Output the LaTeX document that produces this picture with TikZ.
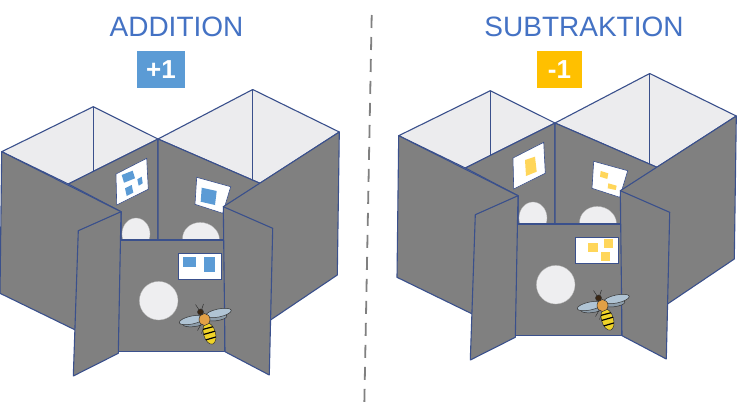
\documentclass[tikz,border=0pt]{standalone}
\usepackage{fontspec}
\setmainfont{Liberation Sans}
\usetikzlibrary{positioning}
\definecolor{wallgray}{RGB}{128,128,128}
\definecolor{topgray}{RGB}{236,236,238}
\definecolor{edgeblue}{RGB}{58,80,140}
\definecolor{titleblue}{RGB}{68,114,196}
\definecolor{sqblue}{RGB}{91,155,213}
\definecolor{sqyellow}{RGB}{255,214,90}
\definecolor{goldbox}{RGB}{255,192,0}
\definecolor{holegray}{RGB}{238,238,240}
\definecolor{winggray}{RGB}{176,196,212}
\definecolor{beeorange}{RGB}{226,160,70}
\definecolor{beeyellow}{RGB}{240,212,40}

\tikzset{
  wall/.style={fill=wallgray, draw=edgeblue, line width=1.1pt, line join=round},
  topface/.style={fill=topgray, draw=edgeblue, line width=1.1pt, line join=round},
  edgeline/.style={draw=edgeblue, line width=1.1pt},
  card/.style={fill=white, draw=edgeblue, line width=0.6pt},
  hole/.style={fill=holegray, draw=gray!60, line width=0.3pt},
  title/.style={text=titleblue, font=\fontsize{28}{28}\selectfont, inner sep=0pt},
  opbox/.style={text=white, font=\bfseries\fontsize{26}{26}\selectfont, minimum height=37pt, inner sep=0pt},
  beeline/.style={draw=black!80, line width=0.5pt}
}

% one maze: two open boxes behind an entrance with two flaps
\newcommand{\drawmaze}{%
  % open tops
  \filldraw[topface] (1.7,151.7) -- (93.3,106.7) -- (158,139) -- (68.3,184) -- cycle;
  \filldraw[topface] (158,139) -- (252.7,89.5) -- (339.3,132) -- (260,183.3) -- cycle;
  \draw[edgeline] (93.3,106.7) -- (93.3,171.5);
  \draw[edgeline] (252.7,89.5) -- (252.7,180.1);
  % inner walls
  \filldraw[wall] (68.3,184) -- (158,139) -- (158,242) -- (121,242) -- (121,211.7) -- cycle;
  \filldraw[wall] (158,139) -- (260,183.3) -- (260,242) -- (158,242) -- cycle;
  \filldraw[hole] (136,234) ellipse [x radius=14, y radius=16];
  \filldraw[hole, rotate around={-10:(201,239)}] (201,239) ellipse [x radius=18.5, y radius=16.5];
  \filldraw[card] (116,174) -- (146.7,158.3) -- (148.3,189.3) -- (116.7,205) -- cycle;
  \filldraw[card] (196.7,177.3) -- (230.7,186.7) -- (222.7,213.3) -- (195,204.3) -- cycle;
  % outer walls
  \filldraw[wall] (1.7,151.7) -- (121,211.7) -- (119.5,300) -- (100,342) -- (0,293.3) -- cycle;
  \filldraw[wall] (223.3,206.7) -- (339.3,132) -- (337.3,275) -- (270.5,320) -- (255,330) -- (240,230) -- cycle;
  % entrance
  \filldraw[wall] (118.3,240) rectangle (224.3,351.7);
  \filldraw[hole] (158.7,300.7) circle [radius=19.3];
  \filldraw[card] (178.3,253.3) rectangle (221.7,279.3);
  \filldraw[wall] (78.3,230.7) -- (121,211.7) -- (118.3,353.3) -- (73.3,376) -- cycle;
  \filldraw[wall] (223.3,206.7) -- (272.7,228.3) -- (269.3,375) -- (225,351.7) -- cycle;
}

% bee, placed by its thorax
\newcommand{\drawbee}[1]{%
  \begin{scope}[shift={#1}]
    \filldraw[fill=winggray!80!black, beeline, rotate around={6:(-11,4)}] (-11,4) ellipse [x radius=10.5, y radius=3.2];
    \filldraw[fill=winggray, beeline, rotate around={12:(-12.5,0.5)}] (-12.5,0.5) ellipse [x radius=13, y radius=4];
    \filldraw[fill=winggray!80!black, beeline, rotate around={8:(12,-2)}] (12,-2) ellipse [x radius=10.5, y radius=3.2];
    \filldraw[fill=winggray, beeline, rotate around={12:(14,-6.5)}] (14,-6.5) ellipse [x radius=13, y radius=4];
    \draw[beeline] (-3,4) -- (-7,11) (0,6) -- (-3,14) (-5,-9) -- (-9,-15) (-3,-9.5) -- (-1,-15.5);
    \filldraw[fill=beeyellow, beeline, rotate around={16:(5,14)}] (5,14) ellipse [x radius=6, y radius=11];
    \begin{scope}
      \clip[rotate around={16:(5,14)}] (5,14) ellipse [x radius=6, y radius=11];
      \draw[black, line width=1.2pt] (-2,10) -- (13,6) (-1,15) -- (13,11) (1,20.5) -- (13,17);
    \end{scope}
    \filldraw[fill=beeorange, beeline] (0,0) ellipse [x radius=5.5, y radius=6];
    \filldraw[fill=black!70!brown, beeline] (-4,-7.5) circle [radius=3];
  \end{scope}}

\begin{document}
\begin{tikzpicture}[x=1pt, y=-1pt]
  \fill[white] (0,0) rectangle (738,407);
  \useasboundingbox (0,0) rectangle (738,407);

  % Titles
  \node[title] (addtitle) at (176.5,27) {ADDITION};
  \node[title] (subtitle) at (584,27) {SUBTRAKTION};
  \node[opbox, fill=sqblue, minimum width=48pt] (plusbox) at (161,69.5) {+1};
  \node[opbox, fill=goldbox, minimum width=45pt] (minusbox) at (559.5,69.5) {-1};

  % Divider
  \coordinate (divtop) at (371.7,15);
  \coordinate (divbot) at (364.3,405);
  \draw[gray, line width=1.8pt, dash pattern=on 13pt off 9pt] (divtop) -- (divbot);

  % Addition maze
  \begin{scope}
    \drawmaze
    \fill[sqblue] (121.7,175) -- (132.7,170.7) -- (135,178.3) -- (124,182.7) -- cycle;
    \fill[sqblue] (125,188.3) -- (131.7,185) -- (133.3,192.7) -- (126.7,196) -- cycle;
    \fill[sqblue] (137.3,179.3) -- (141.7,176.7) -- (142.7,183.3) -- (138.7,185.7) -- cycle;
    \fill[sqblue] (201.7,187.7) -- (216.7,191) -- (215,205) -- (200.7,201.7) -- cycle;
    \fill[sqblue] (183.3,257.3) rectangle (196,266.7);
    \fill[sqblue] (204,257.3) rectangle (215,272);
    \drawbee{(204.5,319.5)}
  \end{scope}

  % Subtraction maze
  \begin{scope}[shift={(397,-16)}]
    \drawmaze
    \fill[sqyellow] (128,176) -- (138,172.7) -- (139.7,187.7) -- (129,192) -- cycle;
    \fill[sqyellow] (203.7,187) -- (211.3,189.3) -- (210.3,195) -- (203,192.7) -- cycle;
    \fill[sqyellow] (211.3,199.3) -- (219.7,201.7) -- (218.7,206) -- (210.7,204.3) -- cycle;
    \fill[sqyellow] (191.3,258.7) rectangle (201.3,267.7);
    \fill[sqyellow] (207,255.3) rectangle (215.7,264.3);
    \fill[sqyellow] (203.7,267.7) rectangle (213,276.7);
    \drawbee{(205.5,321.5)}
  \end{scope}
\end{tikzpicture}
\end{document}
